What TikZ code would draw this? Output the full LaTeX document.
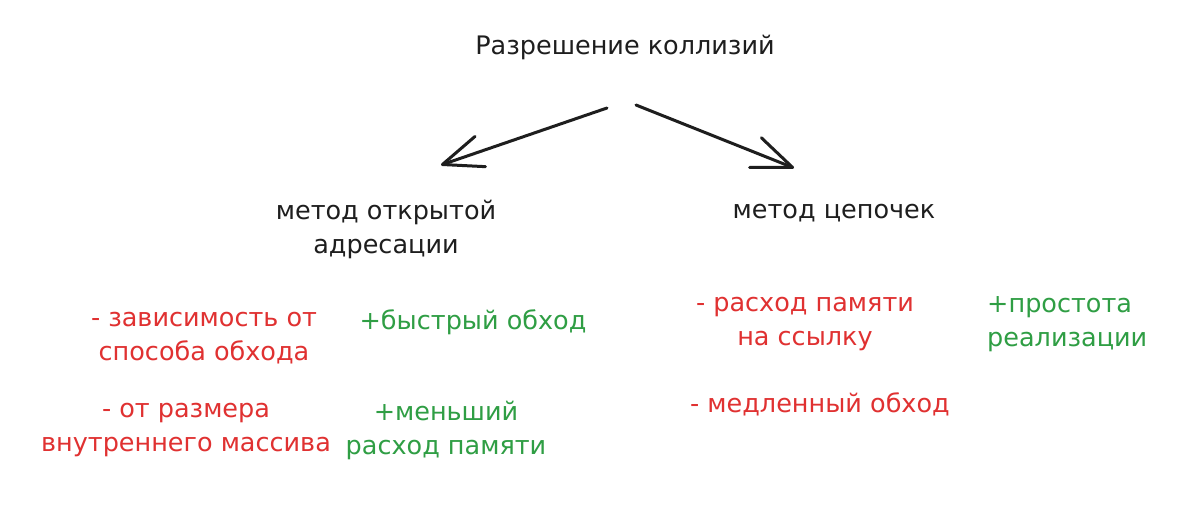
\documentclass[tikz,border=0pt]{standalone}
\usepackage{fontspec}
\setmainfont{DejaVu Sans}
\usetikzlibrary{arrows.meta}
\definecolor{ink}{HTML}{1E1E1E}
\definecolor{neg}{HTML}{E03131}
\definecolor{pos}{HTML}{2F9E44}
\tikzset{
  lbl/.style={inner sep=0pt, align=center, font=\fontsize{25.5}{34}\selectfont, text=ink},
  minus/.style={lbl, text=neg},
  plus/.style={lbl, text=pos},
  conn/.style={draw=ink, line width=3pt, line cap=round,
    -{Straight Barb[length=40pt, width=32pt, line width=3pt, round]}}
}
\begin{document}
\begin{tikzpicture}[x=1pt,y=-1pt]
\useasboundingbox[fill=white] (0,0) rectangle (1200,531);
\node[lbl] (title) at (625,47) {Разрешение коллизий};
\node[lbl] (open) at (386,229) {метод открытой\\адресации};
\node[lbl] (chain) at (834,213) {метод цепочек};
\node[minus] (dep) at (204,338) {- зависимость от\\способа обхода};
\node[plus] (fast) at (473,322) {+быстрый обход};
\node[minus] (size) at (186,430) {- от размера\\внутреннего массива};
\node[plus] (less) at (446,430) {+меньший\\расход памяти};
\node[minus] (mem) at (805,324) {- расход памяти\\на ссылку};
\node[plus,align=left,anchor=west] (simple) at (987,324) {+простота\\реализации};
\node[minus] (slow) at (820,404) {- медленный обход};
\coordinate (l1) at (607,108);
\coordinate (l2) at (441,165);
\coordinate (r1) at (636,105);
\coordinate (r2) at (794,168);
\draw[conn] (l1) -- (l2);
\draw[conn] (r1) -- (r2);
\end{tikzpicture}
\end{document}
